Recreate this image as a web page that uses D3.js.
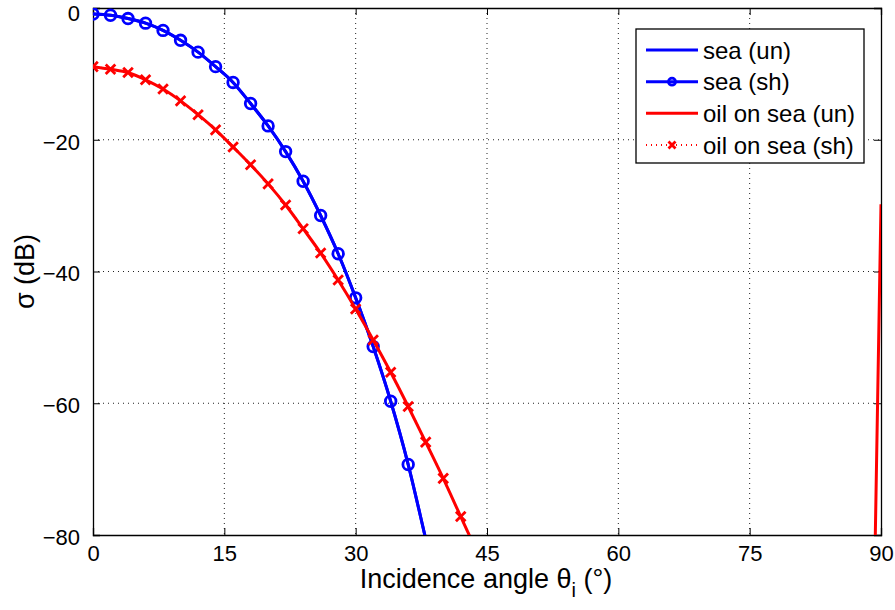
<!DOCTYPE html>
<html>
<head>
<meta charset="utf-8">
<script src="https://cdn.jsdelivr.net/npm/d3@7"></script>
<style>
  body { margin: 0; background: #fff; }
  svg { display: block; }
  text { font-family: "Liberation Sans", Arial, Helvetica, sans-serif; fill: #000; }
</style>
</head>
<body>
<div id="chart"></div>
<script>
// ---- data ----
const angles = [0, 2, 4, 6, 8, 10, 12, 14, 16, 18, 20, 22, 24, 26, 28, 30, 32, 34, 36, 38, 40, 42, 44];
const seaDb = [-0.9, -1.1, -1.6, -2.3, -3.4, -4.9, -6.7, -8.9, -11.3, -14.5, -17.9, -21.8, -26.3, -31.5, -37.3, -44.0, -51.4, -59.7, -69.3, -80.6, -92.0, -104.0, -117.0];
const oilDb = [-8.9, -9.3, -9.8, -10.9, -12.3, -14.1, -16.2, -18.5, -21.1, -23.8, -26.7, -29.9, -33.5, -37.2, -41.3, -45.7, -50.4, -55.3, -60.5, -65.9, -71.4, -77.2, -83.0];
// near-grazing tail of the unshadowed oil curve
const oilTailAngles = [60, 75, 89, 90];
const oilTailDb = [-130, -125, -107, -29.8];
const xTicks = [0, 15, 30, 45, 60, 75, 90];
const yTicks = [0, -20, -40, -60, -80];
const legendLabels = ["sea (un)", "sea (sh)", "oil on sea (un)", "oil on sea (sh)"];

const W = 895, H = 610;
const m = { left: 93, right: 14, top: 8, bottom: 75 };
const iw = W - m.left - m.right, ih = H - m.top - m.bottom;

const svg = d3.select("#chart").append("svg").attr("width", W).attr("height", H);
const x = d3.scaleLinear().domain([0, 90]).range([0, iw]);
const y = d3.scaleLinear().domain([-80, 0]).range([ih, 0]);

const g = svg.append("g").attr("transform", `translate(${m.left},${m.top})`);

svg.append("defs").append("clipPath").attr("id", "clip")
  .append("rect").attr("x", 0).attr("y", 0).attr("width", iw).attr("height", ih);

// grid
const grid = g.append("g");
xTicks.filter(t => t > 0 && t < 90).forEach(t => {
  grid.append("line").attr("x1", x(t)).attr("x2", x(t)).attr("y1", 0).attr("y2", ih)
    .attr("stroke", "#222").attr("stroke-width", 1).attr("stroke-dasharray", "1,4");
});
yTicks.filter(t => t < 0 && t > -80).forEach(t => {
  grid.append("line").attr("y1", y(t)).attr("y2", y(t)).attr("x1", 0).attr("x2", iw)
    .attr("stroke", "#222").attr("stroke-width", 1).attr("stroke-dasharray", "1,4");
});

// axes (ticks inward, box on)
const tl = 7;
const axB = g.append("g").attr("transform", `translate(0,${ih})`)
  .call(d3.axisBottom(x).tickValues(xTicks).tickSize(-tl).tickPadding(tl + 7).tickFormat(d3.format("d")));
const axT = g.append("g")
  .call(d3.axisTop(x).tickValues(xTicks).tickSize(-tl).tickFormat(""));
const axL = g.append("g")
  .call(d3.axisLeft(y).tickValues(yTicks).tickSize(-tl).tickPadding(tl + 6).tickFormat(d => d3.format("d")(d).replace("-", "\u2212")));
const axR = g.append("g").attr("transform", `translate(${iw},0)`)
  .call(d3.axisRight(y).tickValues(yTicks).tickSize(-tl).tickFormat(""));
[axB, axT, axL, axR].forEach(a => {
  a.select(".domain").attr("stroke", "#000").attr("stroke-width", 1.3);
  a.selectAll(".tick line").attr("stroke", "#000").attr("stroke-width", 1);
  a.selectAll(".tick text").attr("font-size", 22).attr("font-family", "Liberation Sans, Arial, sans-serif");
});
axB.selectAll(".tick text").attr("dy", "0.55em");
axL.selectAll(".tick text").attr("dy", d => d === 0 ? "0.56em" : "0.42em");

// data lines
const plot = g.append("g").attr("clip-path", "url(#clip)");
const smooth = d3.line().x(d => x(d[0])).y(d => y(d[1])).curve(d3.curveMonotoneX);

const seaPts = angles.map((a, i) => [a, seaDb[i]]);
const oilShPts = angles.map((a, i) => [a, oilDb[i]]);

// sea (un)
plot.append("path").attr("d", smooth(seaPts)).attr("fill", "none").attr("stroke", "#0000ff").attr("stroke-width", 3);
// sea (sh)
plot.append("path").attr("d", smooth(seaPts)).attr("fill", "none").attr("stroke", "#0000ff").attr("stroke-width", 3);
plot.selectAll(".circ").data(seaPts.filter(d => d[1] >= -80)).enter().append("circle")
  .attr("cx", d => x(d[0])).attr("cy", d => y(d[1])).attr("r", 5.3)
  .attr("fill", "none").attr("stroke", "#0000ff").attr("stroke-width", 2.8);
// oil (un)
plot.append("path").attr("d", smooth(oilShPts) + "L" + oilTailAngles.map((a, i) => x(a) + "," + y(oilTailDb[i])).join("L"))
  .attr("fill", "none").attr("stroke", "#ff0000").attr("stroke-width", 3);
// oil (sh)
plot.append("path").attr("d", smooth(oilShPts)).attr("fill", "none").attr("stroke", "#ff0000").attr("stroke-width", 2).attr("stroke-dasharray", "1,3");
const xs = 4.8;
plot.selectAll(".xm").data(oilShPts.filter(d => d[1] >= -80)).enter().append("path")
  .attr("d", d => { const cx = x(d[0]), cy = y(d[1]); return `M${cx - xs},${cy - xs}L${cx + xs},${cy + xs}M${cx - xs},${cy + xs}L${cx + xs},${cy - xs}`; })
  .attr("stroke", "#ff0000").attr("stroke-width", 2.8).attr("fill", "none");

// axis labels
svg.append("text").attr("x", m.left + iw / 2 - 1).attr("y", 588).attr("text-anchor", "middle")
  .attr("font-size", 27)
  .html('Incidence angle θ<tspan dy="9" font-size="20">i</tspan><tspan dy="-9"> (°)</tspan>');
svg.append("text").attr("transform", `translate(34,${m.top + ih / 2}) rotate(-90)`)
  .attr("text-anchor", "middle").attr("font-size", 27).text("σ (dB)");

// legend
const lg = svg.append("g");
lg.append("rect").attr("x", 636).attr("y", 29).attr("width", 228).attr("height", 134)
  .attr("fill", "#fff").attr("stroke", "#000").attr("stroke-width", 1.3);
const rowY = [50, 81.7, 113.3, 145];
const sx1 = 646, sx2 = 698, sxc = (sx1 + sx2) / 2;
legendLabels.forEach((lab, i) => {
  const yy = rowY[i];
  const col = i < 2 ? "#0000ff" : "#ff0000";
  lg.append("line").attr("x1", sx1).attr("x2", sx2).attr("y1", yy).attr("y2", yy)
    .attr("stroke", col).attr("stroke-width", i === 3 ? 2 : 3).attr("stroke-dasharray", i === 3 ? "1,4" : null);
  if (i === 1) lg.append("circle").attr("cx", sxc).attr("cy", yy).attr("r", 3.5).attr("fill", "none").attr("stroke", col).attr("stroke-width", 2.8);
  if (i === 3) lg.append("path").attr("d", `M${sxc - 3.5},${yy - 3.5}L${sxc + 3.5},${yy + 3.5}M${sxc - 3.5},${yy + 3.5}L${sxc + 3.5},${yy - 3.5}`).attr("stroke", col).attr("stroke-width", 2.8);
  lg.append("text").attr("x", 703).attr("y", yy).attr("dy", "0.36em").attr("font-size", 24).text(lab);
});
</script>
</body>
</html>
